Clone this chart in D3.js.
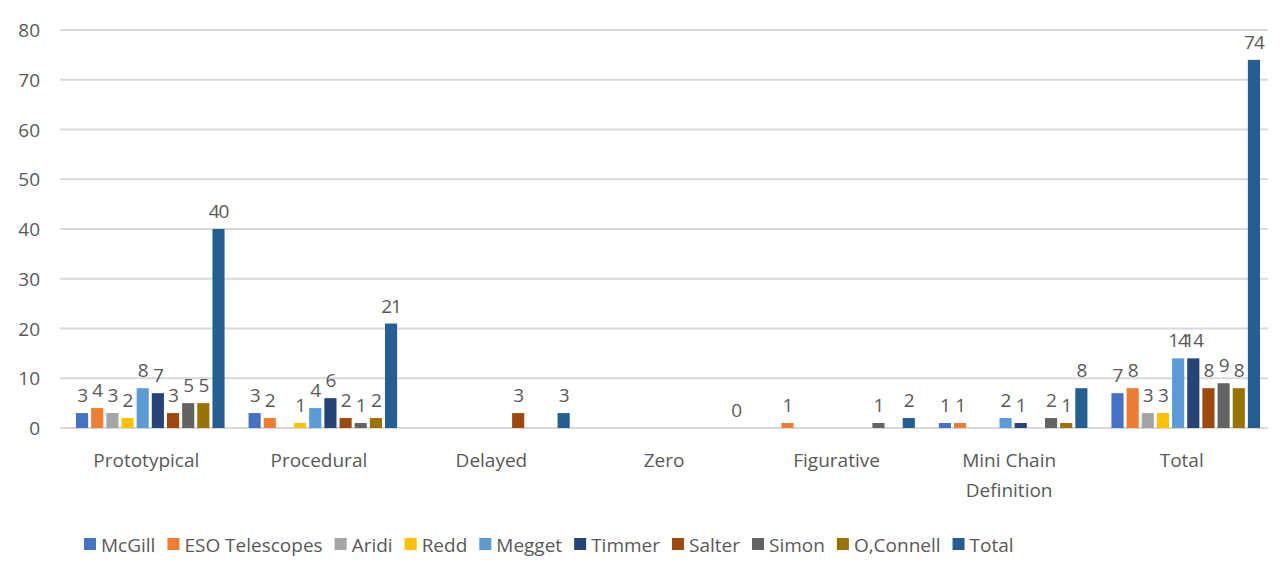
<!DOCTYPE html>
<html><head><meta charset="utf-8">
<script src="https://cdn.jsdelivr.net/npm/d3@7"></script>
<style>body{margin:0;background:#fff}text{font-family:"Open Sans","DejaVu Sans",sans-serif;fill:#595959}</style>
</head><body><svg id="c" width="1288" height="581"></svg>
<script>
const categories = [["Prototypical"], ["Procedural"], ["Delayed"], ["Zero"], ["Figurative"], ["Mini Chain", "Definition"], ["Total"]];
const seriesNames = ["McGill", "ESO Telescopes", "Aridi", "Redd", "Megget", "Timmer", "Salter", "Simon", "O,Connell", "Total"];
const colors = ["#4472C4", "#ED7D31", "#A5A5A5", "#FFC000", "#5B9BD5", "#264478", "#9E480E", "#636363", "#997300", "#255E91"];
// values[category][series]
const values = [
  [3, 4, 3, 2, 8, 7, 3, 5, 5, 40],
  [3, 2, 0, 1, 4, 6, 2, 1, 2, 21],
  [0, 0, 0, 0, 0, 0, 3, 0, 0, 3],
  [0, 0, 0, 0, 0, 0, 0, 0, 0, 0],
  [0, 1, 0, 0, 0, 0, 0, 1, 0, 2],
  [1, 1, 0, 0, 2, 1, 0, 2, 1, 8],
  [7, 8, 3, 3, 14, 14, 8, 9, 8, 74]
];
const yTicks = [0, 10, 20, 30, 40, 50, 60, 70, 80];

const svg = d3.select("#c");
const x0 = d3.scaleBand().domain(d3.range(categories.length)).range([60, 1268]).padding(0);
const x1 = d3.scaleBand().domain(d3.range(seriesNames.length)).range([16, x0.bandwidth() - 8]).paddingInner(0.2);
const y = d3.scaleLinear().domain([0, 80]).range([428, 30]);

svg.append("g").selectAll("line").data(yTicks).join("line")
  .attr("x1", 60).attr("x2", 1268).attr("y1", d => y(d)).attr("y2", d => y(d))
  .attr("stroke", "#d9d9d9").attr("stroke-width", 2);
svg.append("g").selectAll("text").data(yTicks).join("text")
  .attr("x", 40).attr("y", d => y(d) + 7).attr("text-anchor", "end").attr("font-size", 19).text(d => d);

const g = svg.append("g").selectAll("g").data(values).join("g")
  .attr("transform", (d, i) => `translate(${x0(i)},0)`);
g.selectAll("rect").data(d => d).join("rect")
  .attr("x", (d, j) => x1(j)).attr("width", x1.bandwidth())
  .attr("y", d => y(d)).attr("height", d => y(0) - y(d))
  .attr("fill", (d, j) => colors[j]);
g.selectAll("text").data(d => d.map((v, j) => ({v, j}))).join("text")
  .filter(d => d.v > 0 || d.j === 9)
  .attr("x", d => x1(d.j) + x1.bandwidth() / 2).attr("y", d => y(d.v) - 11)
  .attr("text-anchor", "middle").attr("font-size", 19).attr("letter-spacing", -1).text(d => d.v);

svg.append("g").selectAll("text").data(categories).join("text")
  .attr("x", (d, i) => x0(i) + x0.bandwidth() / 2).attr("y", 467)
  .attr("text-anchor", "middle").attr("font-size", 19)
  .each(function (d) {
    d3.select(this).selectAll("tspan").data(d).join("tspan")
      .attr("x", d3.select(this).attr("x")).attr("dy", (t, k) => k ? 30 : 0).text(t => t);
  });

const lg = svg.append("g");
let lx = 84;
seriesNames.forEach((s, i) => {
  lg.append("rect").attr("x", lx).attr("y", 538).attr("width", 12).attr("height", 12).attr("fill", colors[i]);
  const t = lg.append("text").attr("x", lx + 17).attr("y", 552).attr("font-size", 19).text(s);
  lx += 17 + t.node().getComputedTextLength() + 12;
});
</script></body></html>
